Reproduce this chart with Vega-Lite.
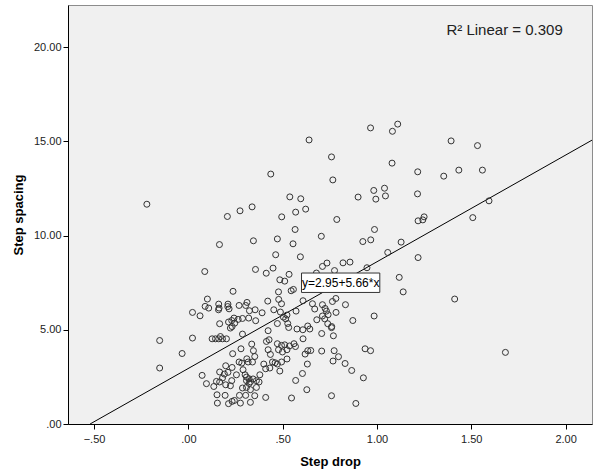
{
  "$schema": "https://vega.github.io/schema/vega-lite/v6.json",
  "width": 524,
  "height": 419,
  "autosize": "none",
  "padding": {"left": 68, "top": 5, "right": 2, "bottom": 50},
  "background": "#ffffff",
  "view": {"fill": "#f0f0f0", "stroke": "#8c8c8c", "strokeWidth": 1},
  "config": {
    "axis": {
      "labelFont": "Liberation Sans",
      "labelFontSize": 11,
      "labelColor": "#222222",
      "titleFont": "Liberation Sans",
      "titleFontSize": 13,
      "titleFontWeight": "bold",
      "titleColor": "#000000",
      "domainColor": "#000000",
      "tickColor": "#000000",
      "tickSize": 5,
      "grid": false
    },
    "text": {"font": "Liberation Sans"}
  },
  "datasets": {
    "pts": [
      {"d":-0.220,"s":11.66},{"d":-0.152,"s":4.43},{"d":-0.152,"s":2.97},{"d":-0.033,"s":3.74},{"d":0.022,"s":5.92},
      {"d":0.022,"s":4.56},{"d":0.062,"s":5.74},{"d":0.087,"s":8.09},{"d":0.073,"s":2.58},{"d":0.096,"s":2.14},
      {"d":0.101,"s":6.63},{"d":0.108,"s":6.15},{"d":0.089,"s":6.24},{"d":0.126,"s":4.52},{"d":0.144,"s":4.52},
      {"d":0.161,"s":4.52},{"d":0.181,"s":4.52},{"d":0.202,"s":4.52},{"d":0.170,"s":4.64},{"d":0.165,"s":9.52},
      {"d":0.161,"s":6.36},{"d":0.163,"s":6.15},{"d":0.160,"s":6.06},{"d":0.135,"s":1.99},{"d":0.152,"s":1.55},
      {"d":0.154,"s":1.11},{"d":0.166,"s":5.32},{"d":0.207,"s":11.01},{"d":0.274,"s":11.31},{"d":0.338,"s":11.52},
      {"d":0.437,"s":13.26},{"d":0.495,"s":10.99},{"d":0.538,"s":12.05},{"d":0.596,"s":11.95},{"d":0.622,"s":11.40},
      {"d":0.569,"s":11.24},{"d":0.566,"s":10.32},{"d":0.345,"s":9.72},{"d":0.472,"s":9.82},{"d":0.555,"s":9.56},
      {"d":0.463,"s":8.98},{"d":0.594,"s":8.87},{"d":0.356,"s":8.20},{"d":0.449,"s":8.27},{"d":0.413,"s":8.00},
      {"d":0.534,"s":7.94},{"d":0.485,"s":7.65},{"d":0.511,"s":7.58},{"d":0.640,"s":15.07},{"d":0.759,"s":14.17},
      {"d":0.966,"s":15.71},{"d":1.082,"s":15.53},{"d":1.110,"s":15.91},{"d":1.080,"s":13.84},{"d":1.216,"s":13.38},
      {"d":0.766,"s":12.95},{"d":0.983,"s":12.39},{"d":1.040,"s":12.51},{"d":0.900,"s":12.04},{"d":0.994,"s":11.93},
      {"d":1.045,"s":12.10},{"d":1.215,"s":12.21},{"d":0.787,"s":10.85},{"d":1.218,"s":10.78},{"d":1.243,"s":10.83},
      {"d":1.250,"s":10.99},{"d":0.705,"s":9.96},{"d":0.987,"s":10.32},{"d":0.925,"s":9.68},{"d":0.967,"s":9.77},
      {"d":1.128,"s":9.65},{"d":1.057,"s":9.10},{"d":1.218,"s":8.83},{"d":0.711,"s":8.36},{"d":0.735,"s":8.54},
      {"d":0.820,"s":8.55},{"d":0.857,"s":8.59},{"d":0.947,"s":8.29},{"d":0.775,"s":8.14},{"d":0.679,"s":8.01},
      {"d":1.118,"s":7.78},{"d":1.139,"s":7.01},{"d":1.393,"s":15.02},{"d":1.533,"s":14.77},{"d":1.354,"s":13.15},
      {"d":1.434,"s":13.47},{"d":1.559,"s":13.47},{"d":1.594,"s":11.84},{"d":1.508,"s":10.95},{"d":1.412,"s":6.63},
      {"d":1.681,"s":3.80},{"d":0.764,"s":6.50},{"d":0.782,"s":6.66},{"d":0.833,"s":6.33},{"d":0.783,"s":5.92},
      {"d":0.741,"s":5.80},{"d":0.711,"s":5.73},{"d":0.725,"s":6.13},{"d":0.872,"s":5.49},{"d":0.985,"s":5.73},
      {"d":0.759,"s":5.11},{"d":0.769,"s":4.68},{"d":0.707,"s":4.80},{"d":0.707,"s":3.87},{"d":0.773,"s":3.89},
      {"d":0.796,"s":3.57},{"d":0.767,"s":3.34},{"d":0.831,"s":3.21},{"d":0.866,"s":2.84},{"d":0.937,"s":3.99},
      {"d":0.966,"s":3.89},{"d":0.928,"s":2.45},{"d":0.759,"s":1.50},{"d":0.888,"s":1.09},{"d":0.608,"s":6.54},
      {"d":0.658,"s":6.38},{"d":0.670,"s":6.10},{"d":0.681,"s":5.53},{"d":0.607,"s":5.00},{"d":0.644,"s":5.04},
      {"d":0.608,"s":4.52},{"d":0.619,"s":3.71},{"d":0.633,"s":3.89},{"d":0.649,"s":3.90},{"d":0.631,"s":3.18},
      {"d":0.605,"s":2.68},{"d":0.628,"s":1.82},{"d":0.569,"s":2.31},{"d":0.547,"s":1.38},{"d":0.410,"s":1.41},
      {"d":0.237,"s":7.04},{"d":0.210,"s":6.36},{"d":0.216,"s":6.11},{"d":0.209,"s":6.23},{"d":0.269,"s":6.29},
      {"d":0.311,"s":6.45},{"d":0.304,"s":6.29},{"d":0.324,"s":6.01},{"d":0.354,"s":6.06},{"d":0.391,"s":5.90},
      {"d":0.421,"s":6.52},{"d":0.453,"s":6.06},{"d":0.479,"s":6.61},{"d":0.494,"s":6.38},{"d":0.488,"s":5.94},
      {"d":0.504,"s":5.67},{"d":0.523,"s":5.78},{"d":0.516,"s":5.58},{"d":0.532,"s":5.12},{"d":0.527,"s":5.33},
      {"d":0.472,"s":5.33},{"d":0.571,"s":5.99},{"d":0.545,"s":7.07},{"d":0.557,"s":7.14},{"d":0.478,"s":7.01},
      {"d":0.287,"s":5.60},{"d":0.320,"s":5.62},{"d":0.264,"s":5.55},{"d":0.242,"s":5.62},{"d":0.230,"s":5.49},
      {"d":0.246,"s":5.35},{"d":0.223,"s":5.09},{"d":0.232,"s":5.17},{"d":0.213,"s":5.41},{"d":0.357,"s":5.48},
      {"d":0.287,"s":4.77},{"d":0.423,"s":4.95},{"d":0.414,"s":4.38},{"d":0.428,"s":4.47},{"d":0.472,"s":4.26},
      {"d":0.494,"s":4.17},{"d":0.478,"s":3.94},{"d":0.499,"s":3.82},{"d":0.523,"s":3.94},{"d":0.536,"s":4.14},
      {"d":0.560,"s":4.26},{"d":0.568,"s":4.11},{"d":0.511,"s":4.20},{"d":0.523,"s":3.45},{"d":0.423,"s":3.94},
      {"d":0.435,"s":3.69},{"d":0.446,"s":3.29},{"d":0.460,"s":3.25},{"d":0.472,"s":3.18},{"d":0.485,"s":2.81},
      {"d":0.494,"s":3.29},{"d":0.336,"s":4.24},{"d":0.345,"s":3.89},{"d":0.352,"s":3.58},{"d":0.340,"s":3.29},
      {"d":0.279,"s":3.99},{"d":0.235,"s":3.73},{"d":0.269,"s":3.29},{"d":0.283,"s":3.23},{"d":0.310,"s":3.46},
      {"d":0.317,"s":3.29},{"d":0.198,"s":3.09},{"d":0.232,"s":3.00},{"d":0.210,"s":2.74},{"d":0.191,"s":2.65},
      {"d":0.166,"s":2.76},{"d":0.181,"s":2.44},{"d":0.166,"s":2.23},{"d":0.198,"s":2.08},{"d":0.230,"s":2.30},
      {"d":0.223,"s":2.03},{"d":0.255,"s":2.61},{"d":0.290,"s":2.88},{"d":0.301,"s":2.61},{"d":0.308,"s":2.49},
      {"d":0.308,"s":2.30},{"d":0.322,"s":2.40},{"d":0.329,"s":2.24},{"d":0.343,"s":2.39},{"d":0.361,"s":2.30},
      {"d":0.375,"s":2.23},{"d":0.322,"s":2.15},{"d":0.287,"s":1.91},{"d":0.308,"s":1.94},{"d":0.329,"s":1.82},
      {"d":0.361,"s":1.94},{"d":0.379,"s":2.61},{"d":0.400,"s":3.18},{"d":0.410,"s":2.93},{"d":0.432,"s":2.97},
      {"d":0.195,"s":1.52},{"d":0.213,"s":1.08},{"d":0.232,"s":1.20},{"d":0.244,"s":1.25},{"d":0.271,"s":1.52},
      {"d":0.276,"s":1.11},{"d":0.304,"s":1.52},{"d":0.329,"s":1.15},{"d":0.352,"s":1.50},{"d":0.149,"s":2.26},
      {"d":0.576,"s":5.04},{"d":0.633,"s":5.20},{"d":0.711,"s":6.33},{"d":0.732,"s":5.99},{"d":0.723,"s":5.58},
      {"d":0.739,"s":5.32},{"d":0.760,"s":5.17}
    ],
    "fit": [{"d": -0.521, "s": 0}, {"d": 2.14, "s": 15.06}],
    "box": [{"x1": 0.600, "x2": 1.015, "y1": 6.98, "y2": 8.01, "x": 0.808, "y": 7.495, "label": "y=2.95+5.66*x"}],
    "r2": [{"x": 1.985, "y": 20.9, "label": "R² Linear = 0.309"}]
  },
  "layer": [
    {
      "data": {"name": "fit"},
      "mark": {"type": "line", "color": "#000000", "strokeWidth": 1, "clip": true},
      "encoding": {
        "x": {"field": "d", "type": "quantitative", "scale": {"domain": [-0.638, 2.14], "nice": false, "zero": false},
          "axis": {"title": "Step drop", "values": [-0.5, 0, 0.5, 1, 1.5, 2], "labelPadding": 4,
            "labelExpr": "abs(datum.value) < 1 ? replace(format(datum.value, '.2f'), '0.', '.') : format(datum.value, '.2f')",
            "titleY": 41, "titleBaseline": "alphabetic"}},
        "y": {"field": "s", "type": "quantitative", "scale": {"domain": [0, 22.23], "nice": false, "zero": false},
          "axis": {"title": "Step spacing", "values": [0, 5, 10, 15, 20], "labelPadding": 2,
            "labelExpr": "abs(datum.value) < 1 ? replace(format(datum.value, '.2f'), '0.', '.') : format(datum.value, '.2f')",
            "titleX": -46, "titleY": 209.5, "titleAngle": -90, "titleAlign": "center", "titleBaseline": "alphabetic"}}
      }
    },
    {
      "data": {"name": "pts"},
      "mark": {"type": "point", "filled": false, "shape": "circle", "size": 36, "stroke": "#333333", "strokeWidth": 1, "opacity": 1},
      "encoding": {
        "x": {"field": "d", "type": "quantitative"},
        "y": {"field": "s", "type": "quantitative"}
      }
    },
    {
      "data": {"name": "box"},
      "mark": {"type": "rect", "fill": "#ffffff", "stroke": "#333333", "strokeWidth": 1},
      "encoding": {
        "x": {"field": "x1", "type": "quantitative"},
        "x2": {"field": "x2"},
        "y": {"field": "y1", "type": "quantitative"},
        "y2": {"field": "y2"}
      }
    },
    {
      "data": {"name": "box"},
      "mark": {"type": "text", "fontSize": 12, "color": "#000000", "align": "center", "baseline": "middle"},
      "encoding": {
        "x": {"field": "x", "type": "quantitative"},
        "y": {"field": "y", "type": "quantitative"},
        "text": {"field": "label"}
      }
    },
    {
      "data": {"name": "r2"},
      "mark": {"type": "text", "fontSize": 15, "color": "#222222", "align": "right", "baseline": "middle"},
      "encoding": {
        "x": {"field": "x", "type": "quantitative"},
        "y": {"field": "y", "type": "quantitative"},
        "text": {"field": "label"}
      }
    }
  ]
}
